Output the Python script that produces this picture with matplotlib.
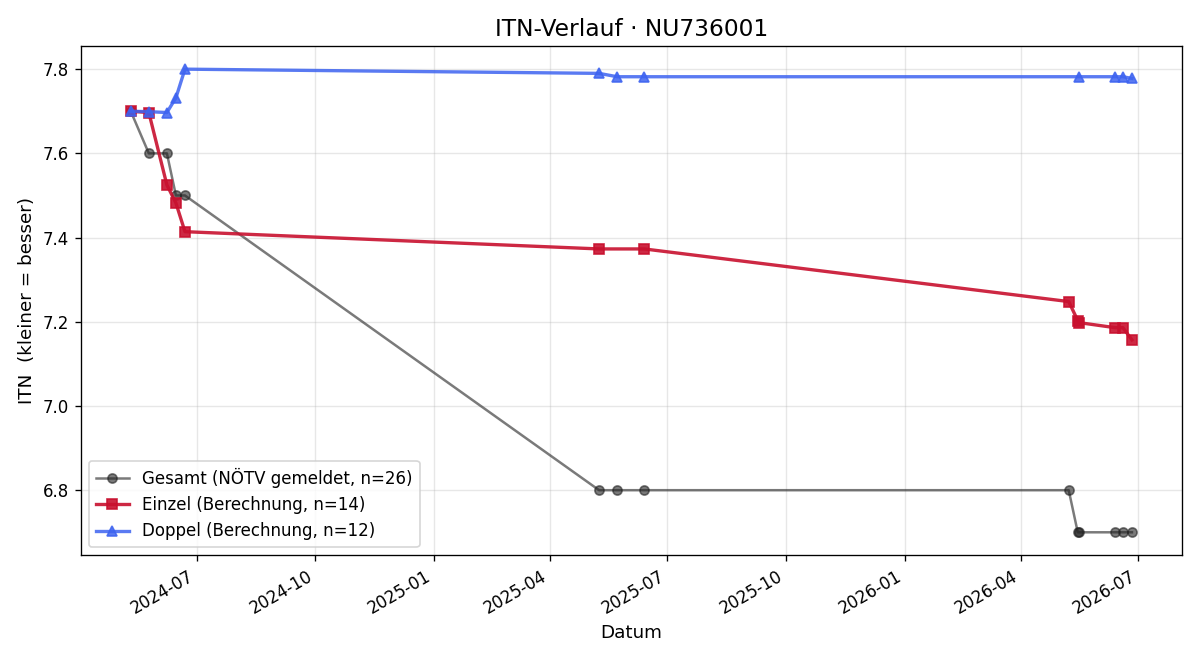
import matplotlib
matplotlib.use("Agg")
import matplotlib.pyplot as plt
import matplotlib.dates as mdates
import pandas as pd

gesamt_dates = ["2024-05-11", "2024-05-25", "2024-06-08", "2024-06-15", "2024-06-22",
                "2025-05-09", "2025-05-23", "2025-06-13",
                "2026-05-08", "2026-05-15", "2026-05-16", "2026-06-13", "2026-06-19", "2026-06-26"]
gesamt_vals = [7.7, 7.6, 7.6, 7.5, 7.5, 6.8, 6.8, 6.8, 6.8, 6.7, 6.7, 6.7, 6.7, 6.7]

einzel_dates = ["2024-05-11", "2024-05-25", "2024-06-08", "2024-06-15", "2024-06-22",
                "2025-05-09", "2025-06-13",
                "2026-05-08", "2026-05-15", "2026-05-16", "2026-06-13", "2026-06-19", "2026-06-26"]
einzel_vals = [7.700, 7.697, 7.525, 7.482, 7.414, 7.373, 7.373,
               7.248, 7.203, 7.198, 7.186, 7.186, 7.157]

doppel_dates = ["2024-05-11", "2024-05-25", "2024-06-08", "2024-06-15", "2024-06-22",
                "2025-05-09", "2025-05-23", "2025-06-13",
                "2026-05-16", "2026-06-13", "2026-06-19", "2026-06-26"]
doppel_vals = [7.700, 7.699, 7.697, 7.732, 7.800, 7.790, 7.782, 7.782,
               7.782, 7.782, 7.782, 7.778]

labels = ["Gesamt (NÖTV gemeldet, n=26)", "Einzel (Berechnung, n=14)", "Doppel (Berechnung, n=12)"]

fig, ax = plt.subplots(figsize=(10, 5.5), dpi=120)
ax.plot(pd.to_datetime(gesamt_dates), gesamt_vals, marker="o", color="#222222", alpha=0.6,
        lw=1.5, markersize=5.5, label=labels[0])
ax.plot(pd.to_datetime(einzel_dates), einzel_vals, marker="s", color="#c8102e", alpha=0.9,
        lw=2, markersize=6.5, label=labels[1])
ax.plot(pd.to_datetime(doppel_dates), doppel_vals, marker="^", color="#3d63f0", alpha=0.85,
        lw=2, markersize=6.5, label=labels[2])

ax.set_title("ITN-Verlauf · NU736001", fontsize=14)
ax.set_xlabel("Datum", fontsize=11)
ax.set_ylabel("ITN  (kleiner = besser)", fontsize=11)
ax.grid(True, alpha=0.3)
ax.xaxis.set_major_locator(mdates.MonthLocator(bymonth=[1, 4, 7, 10]))
ax.xaxis.set_major_formatter(mdates.DateFormatter("%Y-%m"))
ax.legend(loc="lower left", fontsize=10)
fig.autofmt_xdate()
fig.tight_layout()
fig.savefig("out.png", dpi=120)
